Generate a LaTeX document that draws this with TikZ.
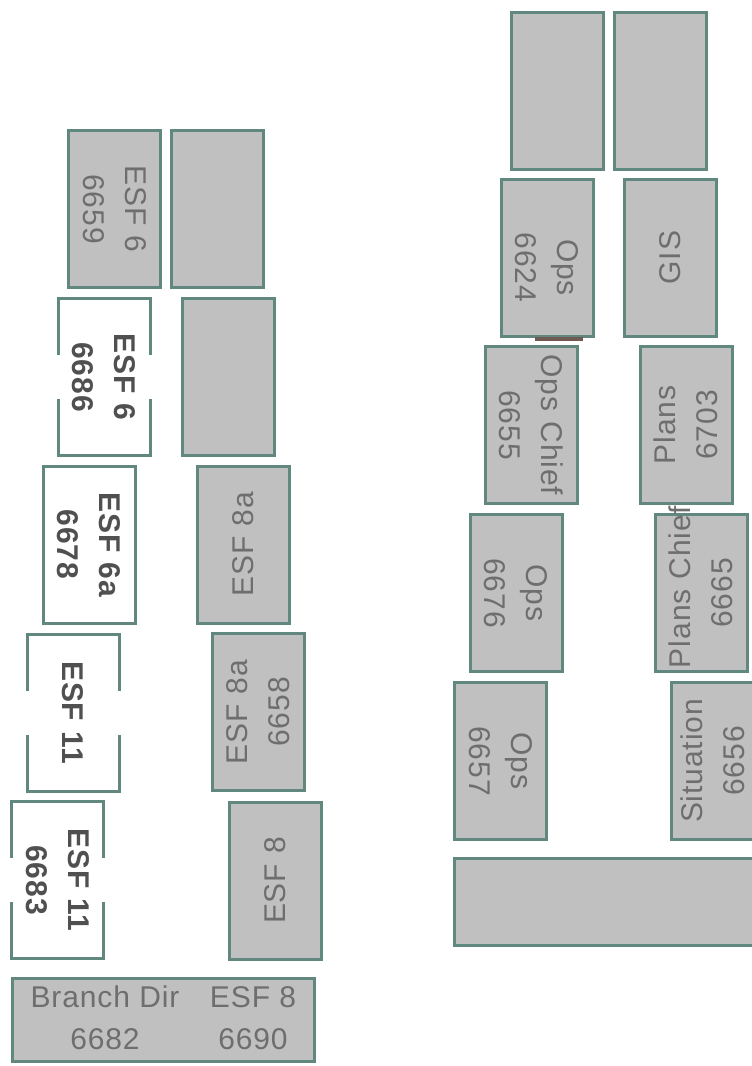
\documentclass[tikz,border=0pt]{standalone}
\usepackage{fontspec}
\newfontfamily\deskfont[LetterSpace=3]{Liberation Sans}
\usetikzlibrary{positioning}
\definecolor{deskgray}{RGB}{192,192,192}
\definecolor{deskedge}{RGB}{96,136,126}
\definecolor{deskink}{RGB}{110,110,110}
\definecolor{boldink}{RGB}{80,80,80}
\definecolor{seamink}{RGB}{112,90,84}

\begin{document}
\begin{tikzpicture}[
  x=1pt, y=-1pt,
  desk/.style={rectangle, draw=deskedge, fill=deskgray, line width=3pt,
    outer sep=0pt, inner sep=0pt, minimum width=157pt, minimum height=92pt,
    text width=150pt, align=center, text=deskink,
    font=\deskfont\fontsize{30}{42}\selectfont},
  whitedesk/.style={desk, fill=white, text=boldink,
    font=\deskfont\bfseries\fontsize{30}{42}\selectfont},
  opendesk/.style={whitedesk, draw=none},
  wall/.style={draw=deskedge, line width=3pt},
  desktext/.style={align=center, inner sep=0pt, text=deskink,
    font=\deskfont\fontsize{30}{42}\selectfont}
  ]
\useasboundingbox (0,0) rectangle (752,1066);

\node[desk, rotate=-90] (esf6) at (114.5,209) {ESF 6\\6659};
\node[desk, rotate=90] (blankA) at (217.5,209) {};
\node[opendesk, rotate=-90] (esf6b) at (104,377) {ESF 6\\6686};
\node[desk, rotate=90] (blankB) at (228,377) {};
\node[whitedesk, rotate=-90] (esf6a) at (89,544.5) {ESF 6a\\6678};
\node[desk, rotate=90] (esf8a) at (243.5,544.5) {ESF 8a};
\node[opendesk, rotate=-90] (esf11) at (73,712.5) {ESF 11};
\node[desk, rotate=90] (esf8ab) at (258.5,712) {ESF 8a\\6658};
\node[opendesk, rotate=-90] (esf11b) at (57.5,880) {ESF 11\\6683};
\node[desk, rotate=90] (esf8) at (275,880.5) {ESF 8};
\node[desk, minimum width=302pt, minimum height=83pt, text width=0pt] (branch) at (163.5,1020) {};
\node[desktext] (dir) at (105,1018) {Branch Dir\\6682};
\node[desktext] (dirEsf8) at (253,1018) {ESF 8\\6690};

\foreach \d in {esf6b,esf11,esf11b}{
  \draw[wall] ([yshift=22pt]\d.south) -- (\d.south west) -- (\d.north west) -- ([yshift=22pt]\d.north);
  \draw[wall] ([yshift=-22pt]\d.south) -- (\d.south east) -- (\d.north east) -- ([yshift=-22pt]\d.north);
}

\node[desk, rotate=90] (topL) at (557,90.5) {};
\node[desk, rotate=90] (topR) at (660,90.5) {};
\node[desk, rotate=-90] (ops) at (547,257.5) {\hspace*{20pt}Ops\\\hspace*{20pt}6624};
\node[desk, rotate=90] (gis) at (670.5,257.5) {GIS};
\node[desk, rotate=-90] (opsChief) at (531.5,425) {Ops Chief\\6655};
\node[desk, rotate=90] (plans) at (686,425) {Plans\\6703};
\node[desk, rotate=-90] (opsB) at (516,593) {Ops\\6676};
\node[desk, rotate=90] (plansChief) at (701,593) {\mbox{Plans Chief}\\6665};
\node[desk, rotate=-90] (opsC) at (500.5,761) {Ops\\6657};
\node[desk, rotate=90] (situation) at (717,761) {Situation\\6656\rule[-8pt]{0pt}{0pt}};
\node[desk, minimum width=344pt, minimum height=87pt, text width=0pt] (bottomR) at (626.5,902) {};

\draw[seamink, line width=3.5pt] ([xshift=-12pt,yshift=-3pt]ops.east) -- ([xshift=36pt,yshift=-3pt]ops.east);
\end{tikzpicture}
\end{document}
